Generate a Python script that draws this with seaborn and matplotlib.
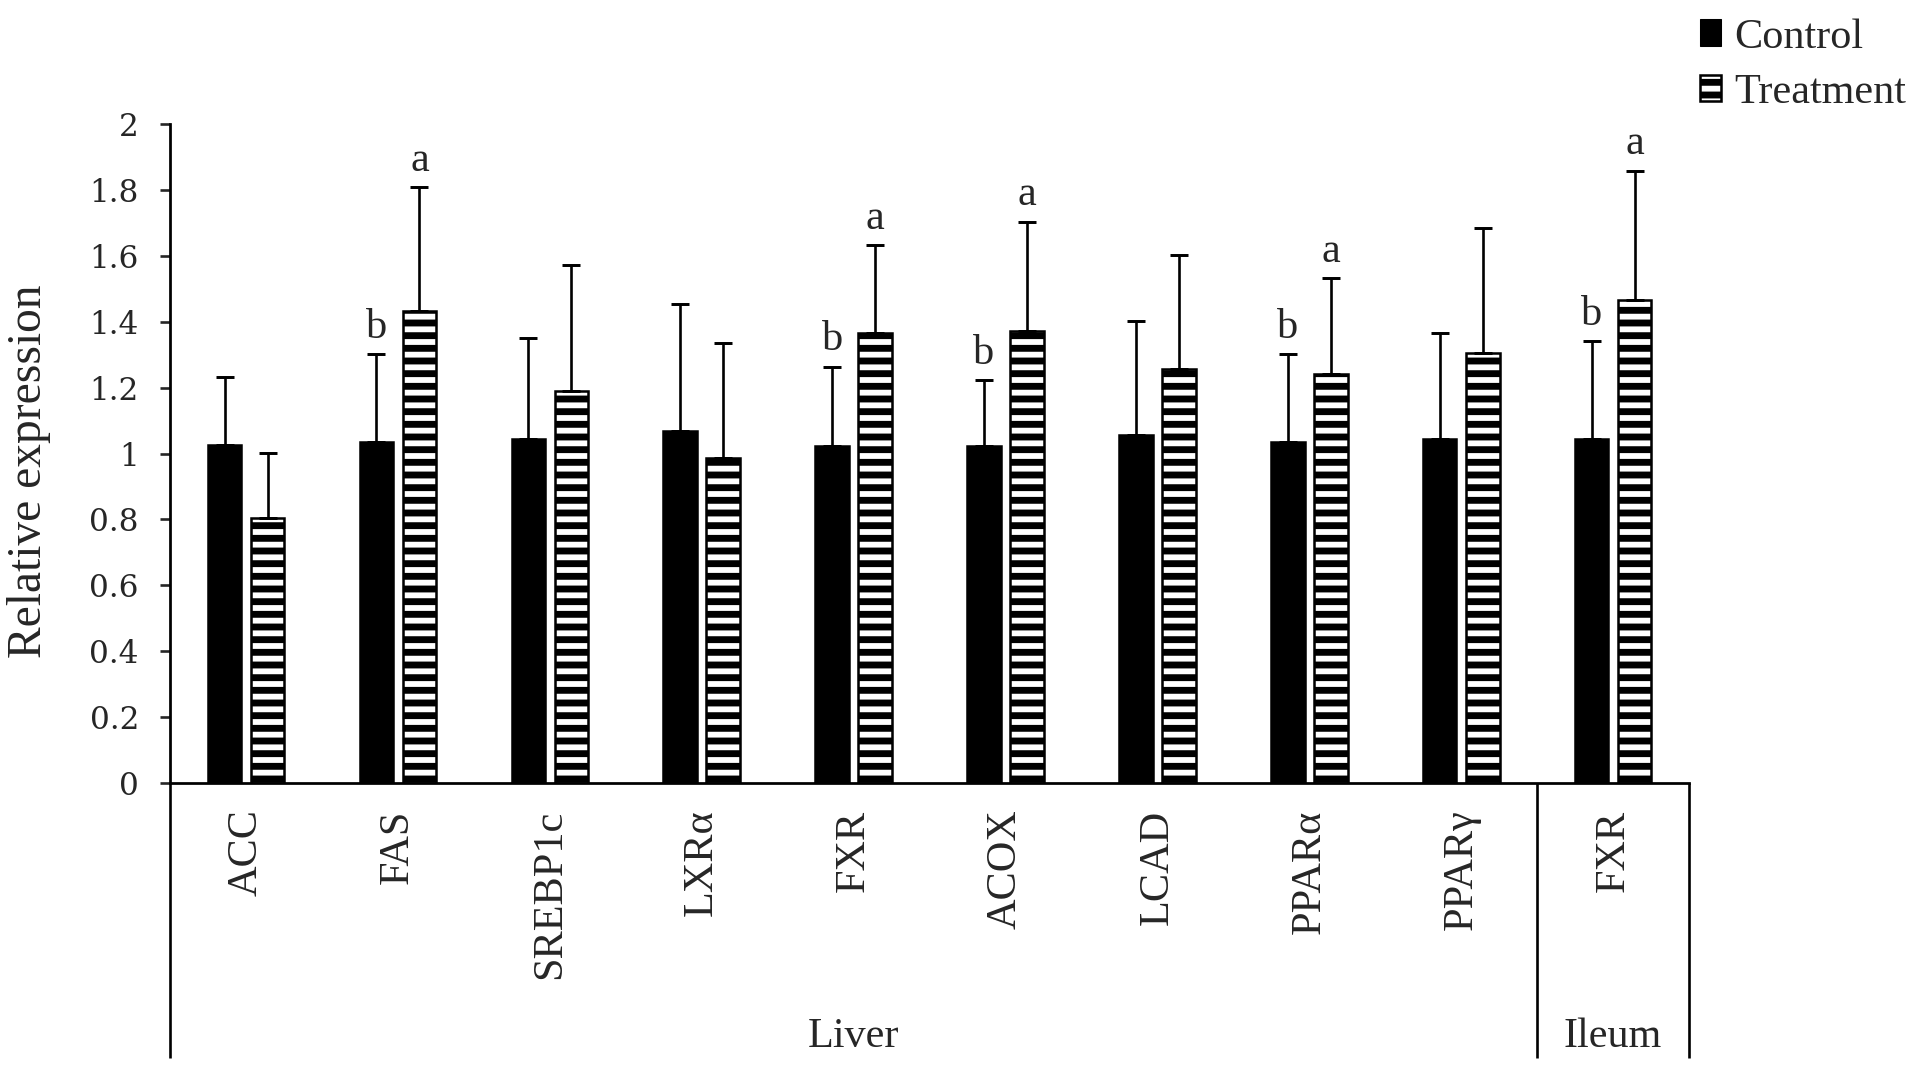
import pandas as pd
import matplotlib
matplotlib.use("Agg")
import matplotlib.pyplot as plt
import matplotlib.transforms as mtransforms
from matplotlib.patches import Patch
from matplotlib.ticker import FuncFormatter
import seaborn as sns

# data
genes = ["ACC", "FAS", "SREBP1c", "LXRα", "FXR", "ACOX", "LCAD", "PPARα", "PPARγ", "FXR"]
tissues = ["Liver"] * 9 + ["Ileum"]
ctrl_mean = [1.026, 1.036, 1.044, 1.069, 1.024, 1.024, 1.056, 1.036, 1.044, 1.044]
ctrl_sd = [0.207, 0.266, 0.307, 0.386, 0.239, 0.199, 0.347, 0.266, 0.323, 0.297]
trt_mean = [0.805, 1.433, 1.190, 0.985, 1.367, 1.373, 1.255, 1.241, 1.304, 1.466]
trt_sd = [0.197, 0.375, 0.381, 0.349, 0.265, 0.330, 0.347, 0.291, 0.379, 0.392]
ctrl_letters = ["", "b", "", "", "b", "b", "", "b", "", "b"]
trt_letters = ["", "a", "", "", "a", "a", "", "a", "", "a"]

keys = [f"{t} {g}" for t, g in zip(tissues, genes)]
df = pd.DataFrame({
    "key": keys * 2,
    "group": ["Control"] * 10 + ["Treatment"] * 10,
    "value": ctrl_mean + trt_mean,
})

sns.set_style("white")
plt.rcParams["font.family"] = ["Liberation Serif", "DejaVu Serif"]
plt.rcParams["hatch.linewidth"] = 6.5

dpi = 76
fig = plt.figure(figsize=(1922 / dpi, 1071 / dpi), dpi=dpi)
ax = fig.add_axes([0.0885, 0.2689, 0.7903, 0.6153])

sns.barplot(data=df, x="key", y="value", hue="group", order=keys,
            hue_order=["Control", "Treatment"],
            palette={"Control": "black", "Treatment": "white"},
            width=0.567, gap=0.22, edgecolor="black", linewidth=2.4,
            errorbar=None, legend=False, ax=ax)

for bar in ax.containers[1]:
    bar.set_hatch("-")

# upward error bars and significance letters
for cont, sds, letters in [(ax.containers[0], ctrl_sd, ctrl_letters),
                           (ax.containers[1], trt_sd, trt_letters)]:
    xs = [b.get_x() + b.get_width() / 2 for b in cont]
    ys = [b.get_height() for b in cont]
    ax.errorbar(xs, ys, yerr=[[0] * len(sds), sds], fmt="none", ecolor="black",
                elinewidth=2.5, capsize=8.5, capthick=2.8, zorder=3)
    for x, y, s, lab in zip(xs, ys, sds, letters):
        if lab:
            ax.text(x, y + s + 0.05, lab, ha="center", va="baseline", fontsize=40)

ax.set_xlim(-0.5, 9.5)
ax.set_ylim(0, 2)
ax.set_yticks([i / 5 for i in range(11)])
ax.yaxis.set_major_formatter(FuncFormatter(lambda v, p: f"{v:g}"))
ax.set_xticks(range(10))
ax.set_xticklabels(genes, rotation=90, fontsize=40)
ax.set_xlabel("")
ax.set_ylabel("")
ax.tick_params(axis="y", left=True, length=9.5, width=2.5, pad=20, labelsize=29.5,
               labelfontfamily="DejaVu Serif")
ax.tick_params(axis="x", length=0, pad=25)

sns.despine(ax=ax)
for side in ["left", "bottom"]:
    ax.spines[side].set_linewidth(2.6)
    ax.spines[side].set_color("black")

# tissue box below the axis
trans = mtransforms.blended_transform_factory(ax.transData, ax.transAxes)
for xb in [-0.5, 8.5, 9.5]:
    ax.plot([xb, xb], [0, -0.417], color="black", lw=2.5, transform=trans,
            clip_on=False, solid_capstyle="butt")
ax.text(4, -0.4006, "Liver", transform=trans, ha="center", va="baseline", fontsize=40)
ax.text(9, -0.4006, "Ileum", transform=trans, ha="center", va="baseline", fontsize=40)

fig.text(29 / 1922, 1 - 471 / 1071, "Relative expression", rotation=90,
         ha="center", va="center", fontsize=45)

handles = [Patch(facecolor="black", edgecolor="black"),
           Patch(facecolor="white", edgecolor="black", hatch="-", linewidth=2.4)]
fig.legend(handles, ["Control", "Treatment"], loc="upper left",
           bbox_to_anchor=(1700 / 1922, 1 - 18 / 1071), frameon=False,
           fontsize=40, handlelength=0.5, handleheight=0.58,
           handletextpad=0.3, labelspacing=0.4, borderpad=0, borderaxespad=0)

fig.savefig("out.png", dpi=dpi)
